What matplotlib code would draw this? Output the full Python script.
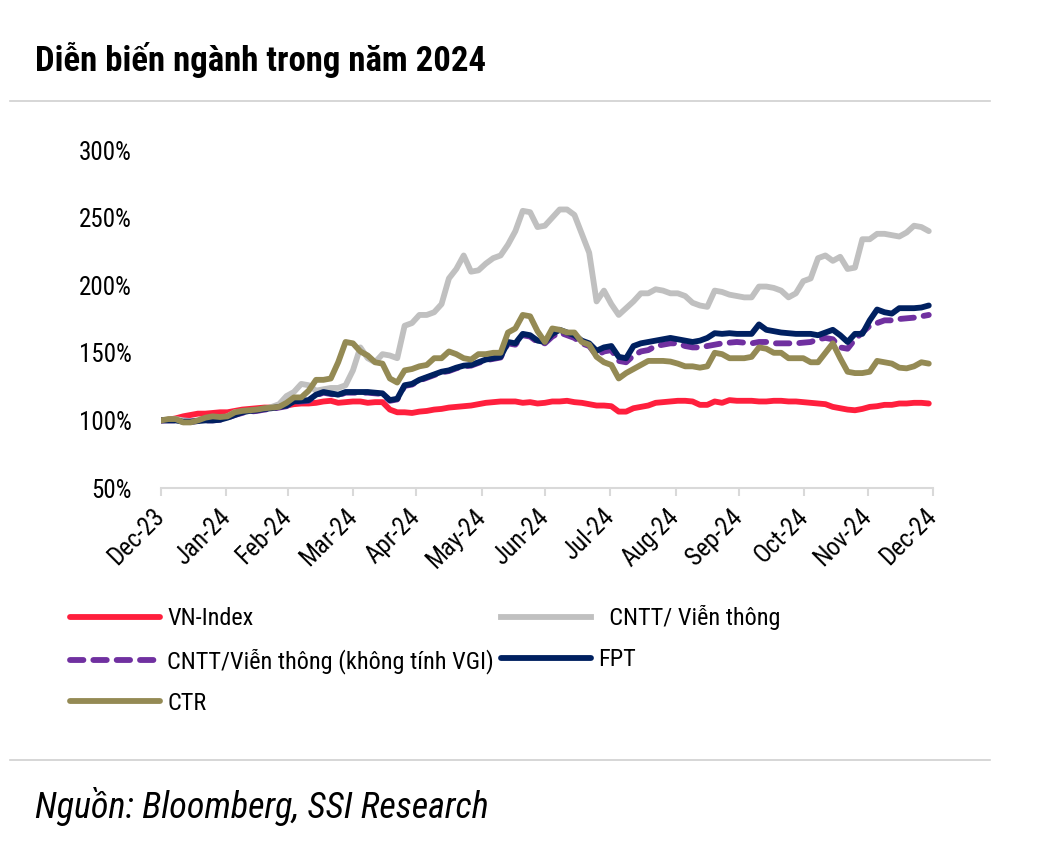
import matplotlib
matplotlib.use('Agg')
import matplotlib.pyplot as plt
from matplotlib.lines import Line2D
import pandas as pd

plt.rcParams['font.family'] = ['Roboto Condensed', 'DejaVu Sans']

# twice-weekly observations, indexed to 100% at end of 2023
dates = pd.date_range('2023-12-31', periods=105, freq='84h')

vn_index = [100, 100.5, 101.5, 103, 104, 105, 105, 105.5, 106, 106,
            107, 108, 108.5, 109, 109.5, 109.5, 110, 111, 112, 112.5,
            112.5, 113, 114, 114.5, 113, 113.5, 114, 114, 113, 113.5,
            113.5, 108, 106, 106, 105.5, 106.5, 107, 108, 108.5, 109.5,
            110, 110.5, 111, 112, 113, 113.5, 114, 114, 114, 113,
            113.5, 112.5, 113, 114, 114, 114.5, 113.5, 113, 112, 111,
            111, 110.5, 106.5, 106.5, 109, 110, 111, 113, 113.5, 114,
            114.5, 114.5, 114, 111.5, 111.5, 114, 113, 115, 114.5, 114.5,
            114.5, 114, 114, 114.5, 114.5, 114, 114, 113.5, 113, 112.5,
            112, 110, 109, 108, 107.5, 108.5, 110, 110.5, 111.5, 111.5,
            112.5, 112.5, 113, 113, 112.5]
cntt = [100, 100.5, 101, 100, 99.5, 100, 101, 101, 101.5, 103,
        106, 106.5, 107, 107.5, 108, 110, 112, 118, 121, 127,
        126, 122, 123, 124, 124, 126, 137, 154, 146, 143,
        149, 148, 146, 170, 172, 178, 178, 180, 186, 205,
        212, 222, 210, 211, 216, 220, 222, 230, 240, 255,
        254, 243, 244, 250, 256, 256, 252, 238, 224, 188,
        196, 186, 178, 183, 188, 194, 194, 197, 196, 194,
        194, 192, 187, 185, 184, 196, 195, 193, 192, 191,
        191, 199, 199, 198, 196, 191, 194, 203, 205, 220,
        222, 218, 221, 212, 213, 234, 234, 238, 238, 237,
        236, 239, 244, 243, 240]
cntt_no_vgi = [100, 100, 100, 99, 99, 99.5, 100, 100, 100.5, 102,
               104, 105.5, 106.5, 107, 108, 108.5, 109.5, 110.5, 113.5, 114,
               114.5, 118.5, 120.5, 119.5, 118.5, 120.5, 120.5, 120.5, 120.5, 120,
               119.5, 114.5, 115.5, 125.5, 126.5, 129.5, 131.5, 133.5, 135.5, 136.5,
               138.5, 140, 140.5, 142.5, 144.5, 145.5, 146.5, 157, 156, 163,
               162, 158, 157, 162, 165, 163, 161, 157, 155, 148,
               151, 152, 144, 143, 148, 151, 152, 155, 156, 157,
               157, 155, 154, 154, 155, 156, 157, 157.5, 158, 157.5,
               157, 158, 158, 157, 157, 157, 157, 157.5, 158, 160,
               161, 160, 154, 153, 160, 165, 170, 172, 174, 174,
               175, 175.5, 176, 177, 178]
fpt = [100, 100, 100, 99, 99, 99.5, 100, 100, 100.5, 102,
       104, 106, 107, 107.5, 108.5, 109, 110, 111, 114, 114.5,
       115, 119, 121, 120, 119, 121, 121, 121, 121, 120.5,
       120, 115, 116, 126, 127, 130, 132, 134, 136, 137,
       139, 140.5, 141, 143, 145, 146, 147, 158, 157, 164,
       163, 159, 158, 164, 167, 165, 163, 159, 157, 151.5,
       154, 155, 147, 146, 155, 157, 158, 159, 160, 161,
       160, 159, 158, 159, 161, 164.5, 164, 164.5, 164, 164,
       164, 171, 167, 166, 165, 164.5, 164, 164, 164, 163,
       165, 167, 163, 158, 164, 164, 174, 182, 180, 179,
       183, 183, 183, 183.5, 185]
ctr = [100, 101, 101, 98.5, 98.5, 100, 102, 103, 102.5, 103,
       106, 107, 107.5, 108, 109, 109.5, 110, 113, 117, 117,
       122, 130, 130, 131, 143, 158, 157, 151, 148, 143,
       142, 131, 128, 137, 138, 140, 141, 146, 146, 151,
       149, 146, 145, 149, 149, 150, 150, 165, 168, 178,
       177, 166, 158, 168, 167, 165, 165, 158, 156, 147,
       143, 141, 131, 135, 138, 141, 144, 144, 144, 143.5,
       142, 140, 140, 139, 140, 150, 149, 146, 146, 146,
       147, 154, 153, 150, 150, 146, 146, 146, 143, 143,
       150, 157, 146, 136, 135, 135, 136, 144, 143, 142,
       139, 138.5, 140, 143, 142]

month_ticks = pd.date_range('2023-12-31', '2024-12-31', freq='ME')
y_ticks = [50, 100, 150, 200, 250, 300]

c_red = '#FF1F3D'
c_gray = '#C0C0C0'
c_purple = '#7030A0'
c_navy = '#002060'
c_olive = '#948A54'
lw = 4.2
dash = (2.3, 1.7)

fig = plt.figure(figsize=(10.64, 8.52), dpi=100)
ax = fig.add_axes([161/1064, 1 - 488/852, 772/1064, 338/852])

ax.plot(dates, vn_index, color=c_red, lw=lw, solid_capstyle='round', solid_joinstyle='round')
ax.plot(dates, cntt, color=c_gray, lw=lw, solid_capstyle='round', solid_joinstyle='round')
ax.plot(dates, cntt_no_vgi, color=c_purple, lw=lw, dashes=dash, dash_capstyle='round')
ax.plot(dates, fpt, color=c_navy, lw=lw, solid_capstyle='round', solid_joinstyle='round')
ax.plot(dates, ctr, color=c_olive, lw=lw, solid_capstyle='round', solid_joinstyle='round')

ax.set_xlim(month_ticks[0], month_ticks[-1])
ax.set_ylim(50, 300)
ax.set_yticks(y_ticks)
ax.set_yticklabels([f'{v}%' for v in y_ticks], fontsize=18)
ax.set_xticks(month_ticks)
ax.set_xticklabels([d.strftime('%b-%y') for d in month_ticks], fontsize=18,
                   rotation=45, ha='right', va='center', rotation_mode='anchor')

for s in ['top', 'right', 'left']:
    ax.spines[s].set_visible(False)
ax.spines['bottom'].set_color('#D9D9D9')
ax.spines['bottom'].set_linewidth(1.5)
ax.tick_params(axis='x', direction='out', length=6, width=1.5, color='#D9D9D9', pad=12)
ax.tick_params(axis='y', length=0, pad=21)

# header / footer
fig.text(35/1064, 1 - 60/852, 'Diễn biến ngành trong năm 2024', fontsize=25,
         fontweight='bold', va='center', ha='left')
fig.add_artist(Line2D([10/1064, 990/1064], [1 - 101/852, 1 - 101/852],
                      color='#D0D0D0', lw=1.2))
fig.add_artist(Line2D([10/1064, 990/1064], [1 - 760/852, 1 - 760/852],
                      color='#D0D0D0', lw=1.2))
fig.text(35/1064, 1 - 806/852, 'Nguồn: Bloomberg, SSI Research', fontsize=26,
         style='italic', va='center', ha='left')

handles = [
    Line2D([], [], color=c_red, lw=lw, solid_capstyle='round'),
    Line2D([], [], color=c_purple, lw=lw, dashes=dash, dash_capstyle='round'),
    Line2D([], [], color=c_olive, lw=lw, solid_capstyle='round'),
    Line2D([], [], color=c_gray, lw=lw),
    Line2D([], [], color=c_navy, lw=lw, solid_capstyle='round'),
]
labels = ['VN-Index', 'CNTT/Viễn thông (không tính VGI)', 'CTR',
          '  CNTT/ Viễn thông', 'FPT']
fig.legend(handles, labels, loc='upper left', bbox_to_anchor=(70/1064, 1 - 605/852),
           ncol=2, frameon=False, fontsize=17.5, handlelength=3.7, handletextpad=0.3,
           columnspacing=0.3, labelspacing=0.74, borderaxespad=0, borderpad=0)

fig.savefig('out.png', dpi=100, facecolor='white')
